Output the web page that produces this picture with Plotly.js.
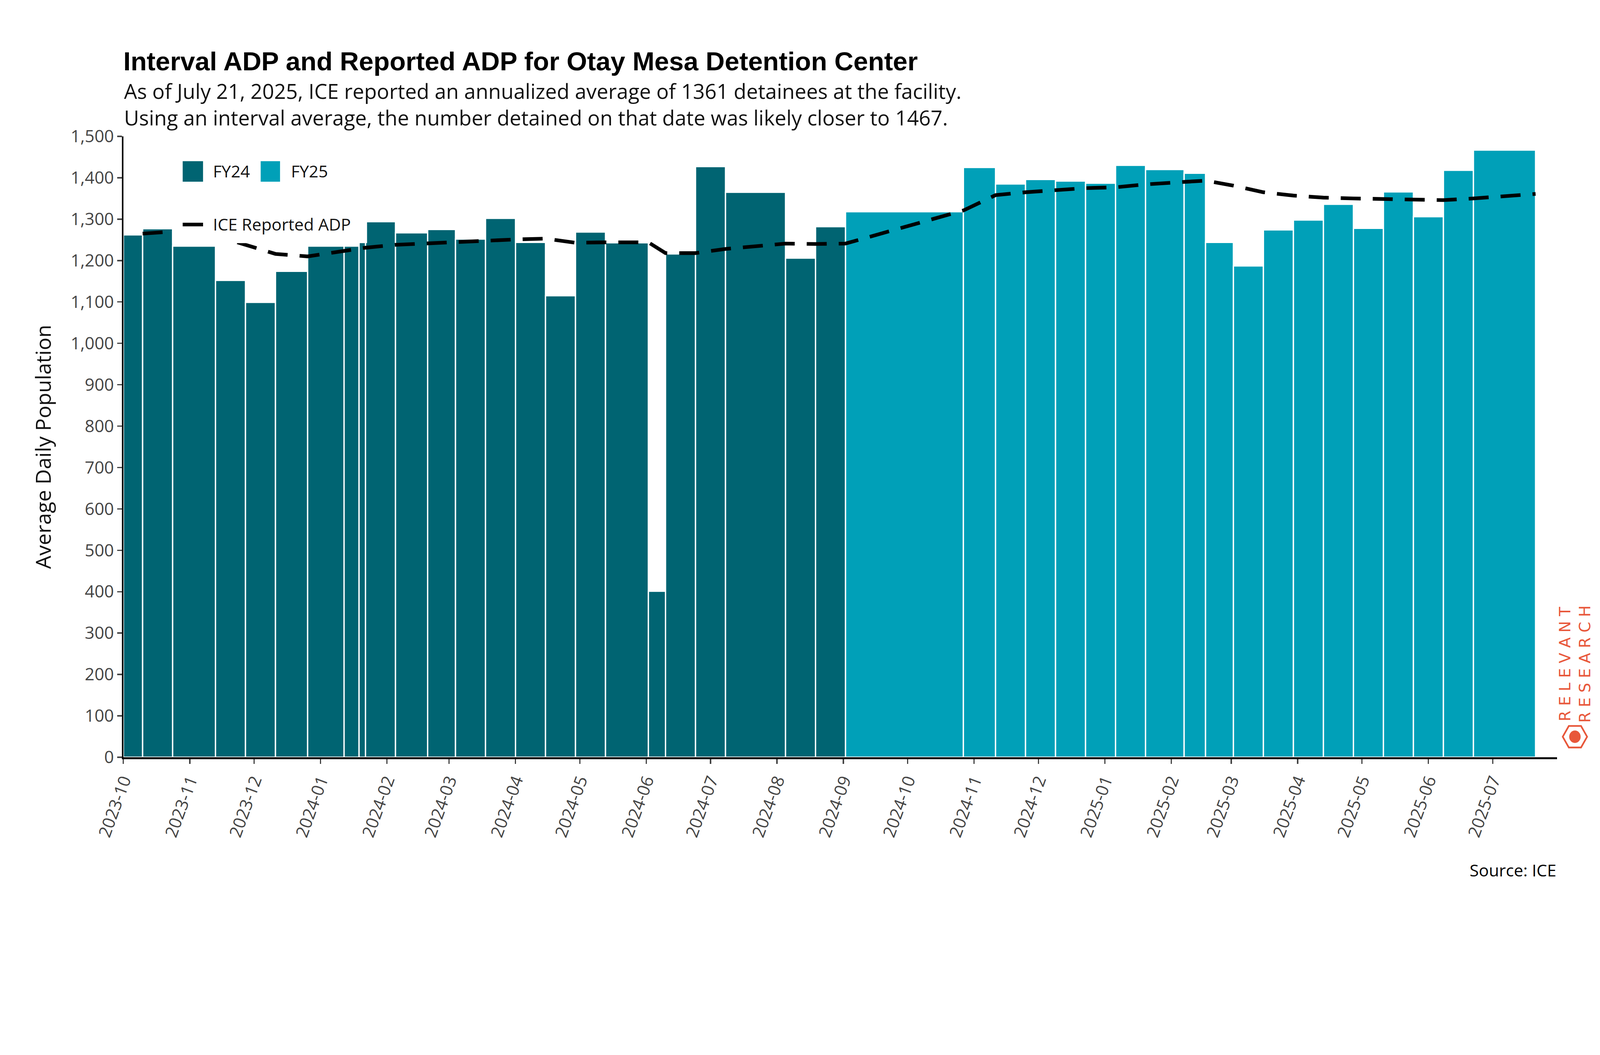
<!DOCTYPE html>
<html>
<head>
<meta charset="utf-8">
<script src="https://cdn.plot.ly/plotly-3.0.1.min.js"></script>
<style>html,body{margin:0;padding:0;background:#fff;overflow:hidden;}
#chart{width:4800px;height:2700px;transform-origin:0 0;}</style>
</head>
<body>
<div id="chart"></div>
<script>
// report dates (interval boundaries), one more than the bars
var reportDates = ['2023-10-01','2023-10-10','2023-10-24','2023-11-13','2023-11-27','2023-12-11','2023-12-26',
  '2024-01-12','2024-01-19','2024-01-22','2024-02-05','2024-02-20','2024-03-04','2024-03-18','2024-04-01',
  '2024-04-15','2024-04-29','2024-05-13','2024-06-02','2024-06-10','2024-06-24','2024-07-08','2024-08-05',
  '2024-08-19','2024-09-02','2024-10-27','2024-11-11','2024-11-25','2024-12-09','2024-12-23','2025-01-06',
  '2025-01-20','2025-02-07','2025-02-17','2025-03-02','2025-03-16','2025-03-30','2025-04-13','2025-04-27',
  '2025-05-11','2025-05-25','2025-06-08','2025-06-22','2025-07-21'];

// interval ADP for each interval
var intervalADP = [1262,1277,1235,1152,1099,1174,1235,1235,1324,1294,1267,1275,1252,1302,1244,1115,1269,1243,
  401,1216,1427,1365,1206,1282,1318,1425,1385,1396,1392,1387,1430,1420,1411,1244,1187,1274,1298,1336,1278,
  1366,1306,1418,1467];

// ICE reported ADP, at reportDates[1..]
var iceADP = [1265,1270,1260,1238,1216,1210,1222,1229,1231,1238,1242,1245,1247,1251,1253,1243,1244,1244,1218,
  1218,1228,1241,1240,1241,1321,1358,1365,1371,1375,1377,1384,1390,1393,1381,1365,1357,1352,1350,1348,1348,
  1346,1350,1361];

var fyStart25 = '2024-10-01';
var COLOR24 = '#006472', COLOR25 = '#00a0b8';

// fit the 4800x2700 figure to whatever the window is
var sc = Math.min(window.innerWidth / 4800, window.innerHeight / 2700);
document.getElementById('chart').style.transform = 'scale(' + sc + ')';

function ms(d) { return new Date(d + 'T00:00:00Z').getTime(); }

var fy24 = {x: [], y: [], width: []}, fy25 = {x: [], y: [], width: []};
for (var i = 0; i < intervalADP.length; i++) {
  var s = reportDates[i], e = reportDates[i + 1];
  var target = ms(e) <= ms(fyStart25) ? fy24 : fy25;
  target.x.push(s);
  target.y.push(intervalADP[i]);
  target.width.push(ms(e) - ms(s));
}

function barTrace(d, name, color) {
  return {
    type: 'bar', name: name, x: d.x, y: d.y, width: d.width, offset: 0,
    marker: {color: color, line: {color: '#ffffff', width: 4}}, showlegend: false
  };
}

var line = {
  type: 'scatter', mode: 'lines', name: 'ICE Reported ADP',
  x: reportDates.slice(1), y: iceADP,
  line: {color: '#000000', width: 11, dash: '60px,36px'}, showlegend: false
};

var font = 'Open Sans, Noto Sans, sans-serif';

// hexagon logo
var cx = 1.0125, cy = 0.033, rx = 0.0085, ry = 0.02, hex = '';
for (var k = 0; k < 6; k++) {
  var a = Math.PI / 3 * k;
  hex += (k ? ' L ' : 'M ') + (cx + rx * Math.cos(a)) + ',' + (cy + ry * Math.sin(a));
}
hex += ' Z';

function legText(t, x, y) {
  return {text: t, xref: 'paper', yref: 'paper', x: x, y: y, xanchor: 'left', yanchor: 'middle',
          showarrow: false, font: {size: 50, color: '#111'}};
}

var layout = {
  width: 4800, height: 2700,
  paper_bgcolor: '#fff', plot_bgcolor: '#fff',
  margin: {l: 370, r: 129, t: 409, b: 429},
  font: {family: font, size: 50, color: '#444'},
  barmode: 'overlay',
  showlegend: false,
  title: {
    text: '<b>Interval ADP and Reported ADP for Otay Mesa Detention Center</b>',
    font: {family: 'Liberation Sans, Arial, sans-serif', size: 79, color: '#000'},
    x: 0, xref: 'paper', xanchor: 'left', y: 0.932, yanchor: 'middle'
  },
  xaxis: {
    type: 'date', range: ['2023-10-01', '2025-07-31'],
    dtick: 'M1', tick0: '2023-10-01', tickformat: '%Y-%m', tickangle: -70,
    ticks: 'outside', ticklen: 14, tickwidth: 4, tickcolor: '#444',
    showgrid: false, zeroline: false,
    showline: true, linecolor: '#000', linewidth: 6,
    tickfont: {size: 51, color: '#444'}
  },
  yaxis: {
    range: [0, 1500], dtick: 100, tickformat: ',',
    ticks: 'outside', ticklen: 14, tickwidth: 4, tickcolor: '#444',
    showgrid: false, zeroline: false,
    showline: true, linecolor: '#000', linewidth: 4,
    tickfont: {size: 51, color: '#444'},
    title: {text: 'Average Daily Population', font: {size: 63, color: '#111'}, standoff: 40}
  },
  annotations: [
    {
      text: 'As of July 21, 2025, ICE reported an annualized average of 1361 detainees at the facility.<br>' +
            'Using an interval average, the number detained on that date was likely closer to 1467.',
      xref: 'paper', yref: 'paper', x: 0, y: 1.052, xanchor: 'left', yanchor: 'middle', align: 'left',
      showarrow: false, font: {size: 62, color: '#111'}
    },
    {
      text: 'Source: ICE', xref: 'paper', yref: 'paper', x: 1, y: -0.182,
      xanchor: 'right', yanchor: 'middle', showarrow: false, font: {size: 50, color: '#000'}
    },
    {
      text: 'R E L E V A N T<br>R E S E A R C H', xref: 'paper', yref: 'paper', x: 1.0125, y: 0.15,
      xanchor: 'center', yanchor: 'middle', textangle: -90, showarrow: false,
      font: {family: 'DejaVu Sans, sans-serif', size: 46, color: '#e8573a'}
    },
    legText('FY24', 0.0621, 0.944),
    legText('FY25', 0.1165, 0.944),
    legText('ICE Reported ADP', 0.0621, 0.858)
  ],
  shapes: [
    // legend backgrounds and keys
    {type: 'rect', xref: 'paper', yref: 'paper', x0: 0.034, x1: 0.17, y0: 0.828, y1: 0.89,
     fillcolor: '#fff', line: {width: 0}, layer: 'above'},
    {type: 'rect', xref: 'paper', yref: 'paper', x0: 0.0414, x1: 0.0556, y0: 0.927, y1: 0.960,
     fillcolor: COLOR24, line: {width: 0}},
    {type: 'rect', xref: 'paper', yref: 'paper', x0: 0.0958, x1: 0.1093, y0: 0.927, y1: 0.960,
     fillcolor: COLOR25, line: {width: 0}},
    {type: 'line', xref: 'paper', yref: 'paper', x0: 0.0414, x1: 0.0556, y0: 0.858, y1: 0.858,
     line: {color: '#000', width: 11}, layer: 'above'},
    // logo
    {type: 'path', xref: 'paper', yref: 'paper', path: hex, line: {color: '#e8573a', width: 5}, fillcolor: '#fff'},
    {type: 'circle', xref: 'paper', yref: 'paper', x0: cx - 0.004, x1: cx + 0.004, y0: cy - 0.01, y1: cy + 0.01,
     fillcolor: '#e8573a', line: {width: 0}}
  ]
};

Plotly.newPlot('chart', [barTrace(fy24, 'FY24', COLOR24), barTrace(fy25, 'FY25', COLOR25), line], layout,
  {displayModeBar: false});
</script>
</body>
</html>
